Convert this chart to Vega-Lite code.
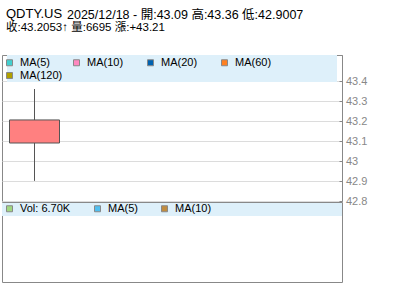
{
  "$schema": "https://vega.github.io/schema/vega-lite/v6.json",
  "usermeta": {"embedOptions": {"actions": false}},
  "background": "white",
  "padding": {"left": 1, "top": 7, "right": 0, "bottom": 0},
  "bounds": "flush",
  "title": {
    "text": "2025/12/18 - 開:43.09 高:43.36 低:42.9007",
    "anchor": "start", "frame": "group",
    "font": "Liberation Sans, Noto Sans CJK TC", "fontSize": 12.5, "fontWeight": "normal", "color": "#000",
    "dx": 65, "dy": 14, "offset": 0
  },
  "datasets": {
    "candle": [{"date": "2025-12-18", "open": 43.09, "high": 43.36, "low": 42.9007, "close": 43.2053, "volume": 6695}],
    "ma": [
      {"series": "MA(5)", "date": "2025-12-18", "value": null},
      {"series": "MA(10)", "date": "2025-12-18", "value": null},
      {"series": "MA(20)", "date": "2025-12-18", "value": null},
      {"series": "MA(60)", "date": "2025-12-18", "value": null},
      {"series": "MA(120)", "date": "2025-12-18", "value": null}
    ],
    "vol": [
      {"series": "Vol: 6.70K", "date": "2025-12-18", "value": null},
      {"series": "MA(5)", "date": "2025-12-18", "value": null},
      {"series": "MA(10)", "date": "2025-12-18", "value": null}
    ]
  },
  "spacing": 1,
  "resolve": {"scale": {"color": "independent", "fill": "independent", "x": "independent", "y": "independent"}, "legend": {"color": "independent", "fill": "independent"}},
  "vconcat": [
    {
      "width": 340,
      "height": 146,
      "title": {
        "text": "QDTY.US",
        "subtitle": "收:43.2053↑ 量:6695 漲:+43.21",
        "anchor": "start", "frame": "group",
        "font": "Liberation Sans, Noto Sans CJK TC", "fontSize": 13, "fontWeight": "normal", "color": "#000",
        "subtitleFont": "Liberation Sans, Noto Sans CJK TC", "subtitleFontSize": 11.5, "subtitleColor": "#000",
        "subtitlePadding": 1, "offset": 22, "dx": 4
      },
      "layer": [
        {
          "data": {"name": "candle"},
          "mark": {"type": "rect", "color": "#def0fa"},
          "encoding": {
            "x": {"datum": {"year": 2025, "month": 12, "date": 17, "hours": 12, "utc": true}, "type": "temporal",
                  "scale": {"domain": [{"year": 2025, "month": 12, "date": 17, "hours": 12, "utc": true}, {"year": 2025, "month": 12, "date": 23, "hours": 12, "utc": true}]},
                  "axis": null},
            "x2": {"datum": {"year": 2025, "month": 12, "date": 23, "hours": 12, "utc": true}},
            "y": {"datum": 43.53, "type": "quantitative",
                  "scale": {"domain": [42.8, 43.53], "nice": false, "zero": false},
                  "axis": {"orient": "right", "title": null, "values": [42.8, 42.9, 43, 43.1, 43.2, 43.3, 43.4], "format": "~g",
                           "labelOverlap": false, "labelBound": false,
                           "grid": true, "gridColor": "#dcdcdc", "domain": true, "domainColor": "#888",
                           "ticks": true, "tickColor": "#888", "tickSize": -3, "labelPadding": 6.5,
                           "labelColor": "#888", "labelFontSize": 11, "labelFont": "Liberation Sans"}},
            "y2": {"datum": 43.395}
          }
        },
        {
          "data": {"name": "candle"},
          "mark": {"type": "rule", "color": "#555555", "strokeWidth": 1},
          "encoding": {
            "x": {"field": "date", "type": "temporal"},
            "y": {"field": "low", "type": "quantitative",
                  "axis": {"orient": "right", "title": null, "values": [42.8, 42.9, 43, 43.1, 43.2, 43.3, 43.4], "format": "~g",
                           "labelOverlap": false, "labelBound": false,
                           "grid": true, "gridColor": "#dcdcdc", "domain": true, "domainColor": "#888",
                           "ticks": true, "tickColor": "#888", "tickSize": -3, "labelPadding": 6.5,
                           "labelColor": "#888", "labelFontSize": 11, "labelFont": "Liberation Sans"}},
            "y2": {"field": "high"}
          }
        },
        {
          "data": {"name": "candle"},
          "mark": {"type": "bar", "size": 50, "fill": "#ff8080", "stroke": "#555555", "strokeWidth": 1},
          "encoding": {
            "x": {"field": "date", "type": "temporal"},
            "y": {"field": "open", "type": "quantitative",
                  "axis": {"orient": "right", "title": null, "values": [42.8, 42.9, 43, 43.1, 43.2, 43.3, 43.4], "format": "~g",
                           "labelOverlap": false, "labelBound": false,
                           "grid": true, "gridColor": "#dcdcdc", "domain": true, "domainColor": "#888",
                           "ticks": true, "tickColor": "#888", "tickSize": -3, "labelPadding": 6.5,
                           "labelColor": "#888", "labelFontSize": 11, "labelFont": "Liberation Sans"}},
            "y2": {"field": "close"}
          }
        },
        {
          "data": {"name": "ma"},
          "transform": [{"filter": "datum.series != 'MA(120)'"}],
          "mark": {"type": "point", "filled": true, "shape": "square"},
          "encoding": {
            "x": {"field": "date", "type": "temporal"},
            "y": {"field": "value", "type": "quantitative",
                  "axis": {"orient": "right", "title": null, "values": [42.8, 42.9, 43, 43.1, 43.2, 43.3, 43.4], "format": "~g",
                           "labelOverlap": false, "labelBound": false,
                           "grid": true, "gridColor": "#dcdcdc", "domain": true, "domainColor": "#888",
                           "ticks": true, "tickColor": "#888", "tickSize": -3, "labelPadding": 6.5,
                           "labelColor": "#888", "labelFontSize": 11, "labelFont": "Liberation Sans"}},
            "color": {"field": "series", "type": "nominal", "sort": null,
                      "scale": {"domain": ["MA(5)", "MA(10)", "MA(20)", "MA(60)"], "range": ["#40d0d0", "#ff88c0", "#0062b0", "#ff8020"]},
                      "legend": {"orient": "none", "direction": "horizontal", "legendX": 2, "legendY": 2,
                                 "columnPadding": 21, "padding": 0, "title": null,
                                 "symbolType": "square", "symbolSize": 36, "symbolStrokeColor": "#888", "symbolStrokeWidth": 1, "symbolOpacity": 1,
                                 "labelFontSize": 11, "labelFont": "Liberation Sans", "labelColor": "#000", "labelOffset": 5}}
          }
        },
        {
          "data": {"name": "ma"},
          "transform": [{"filter": "datum.series == 'MA(120)'"}],
          "mark": {"type": "point", "filled": true, "shape": "square"},
          "encoding": {
            "x": {"field": "date", "type": "temporal"},
            "y": {"field": "value", "type": "quantitative",
                  "axis": {"orient": "right", "title": null, "values": [42.8, 42.9, 43, 43.1, 43.2, 43.3, 43.4], "format": "~g",
                           "labelOverlap": false, "labelBound": false,
                           "grid": true, "gridColor": "#dcdcdc", "domain": true, "domainColor": "#888",
                           "ticks": true, "tickColor": "#888", "tickSize": -3, "labelPadding": 6.5,
                           "labelColor": "#888", "labelFontSize": 11, "labelFont": "Liberation Sans"}},
            "fill": {"field": "series", "type": "nominal", "sort": null,
                     "scale": {"domain": ["MA(120)"], "range": ["#b0a000"]},
                     "legend": {"orient": "none", "direction": "horizontal", "legendX": 2, "legendY": 15,
                                "columnPadding": 21, "padding": 0, "title": null,
                                "symbolType": "square", "symbolSize": 36, "symbolStrokeColor": "#888", "symbolStrokeWidth": 1, "symbolOpacity": 1,
                                "labelFontSize": 11, "labelFont": "Liberation Sans", "labelColor": "#000", "labelOffset": 5}}
          }
        }
      ]
    },
    {
      "width": 340,
      "height": 80,
      "layer": [
        {
          "data": {"name": "candle"},
          "mark": {"type": "rect", "color": "#def0fa"},
          "encoding": {
            "x": {"datum": {"year": 2025, "month": 12, "date": 17, "hours": 12, "utc": true}, "type": "temporal",
                  "scale": {"domain": [{"year": 2025, "month": 12, "date": 17, "hours": 12, "utc": true}, {"year": 2025, "month": 12, "date": 23, "hours": 12, "utc": true}]},
                  "axis": null},
            "x2": {"datum": {"year": 2025, "month": 12, "date": 23, "hours": 12, "utc": true}},
            "y": {"datum": 7900, "type": "quantitative", "scale": {"domain": [0, 8000], "nice": false}, "axis": null},
            "y2": {"datum": 6600}
          }
        },
        {
          "data": {"name": "vol"},
          "mark": {"type": "point", "filled": true, "shape": "square"},
          "encoding": {
            "x": {"field": "date", "type": "temporal"},
            "y": {"field": "value", "type": "quantitative"},
            "color": {"field": "series", "type": "nominal", "sort": null,
                      "scale": {"domain": ["Vol: 6.70K", "MA(5)", "MA(10)"], "range": ["#a0d880", "#50bff0", "#c08c40"]},
                      "legend": {"orient": "none", "direction": "horizontal", "legendX": 2, "legendY": 1,
                                 "columnPadding": 21, "padding": 0, "title": null,
                                 "symbolType": "square", "symbolSize": 36, "symbolStrokeColor": "#888", "symbolStrokeWidth": 1, "symbolOpacity": 1,
                                 "labelFontSize": 11, "labelFont": "Liberation Sans", "labelColor": "#000", "labelOffset": 5}}
          }
        }
      ]
    }
  ],
  "config": {
    "view": {"stroke": "#888888", "strokeWidth": 1},
    "font": "Liberation Sans"
  }
}
